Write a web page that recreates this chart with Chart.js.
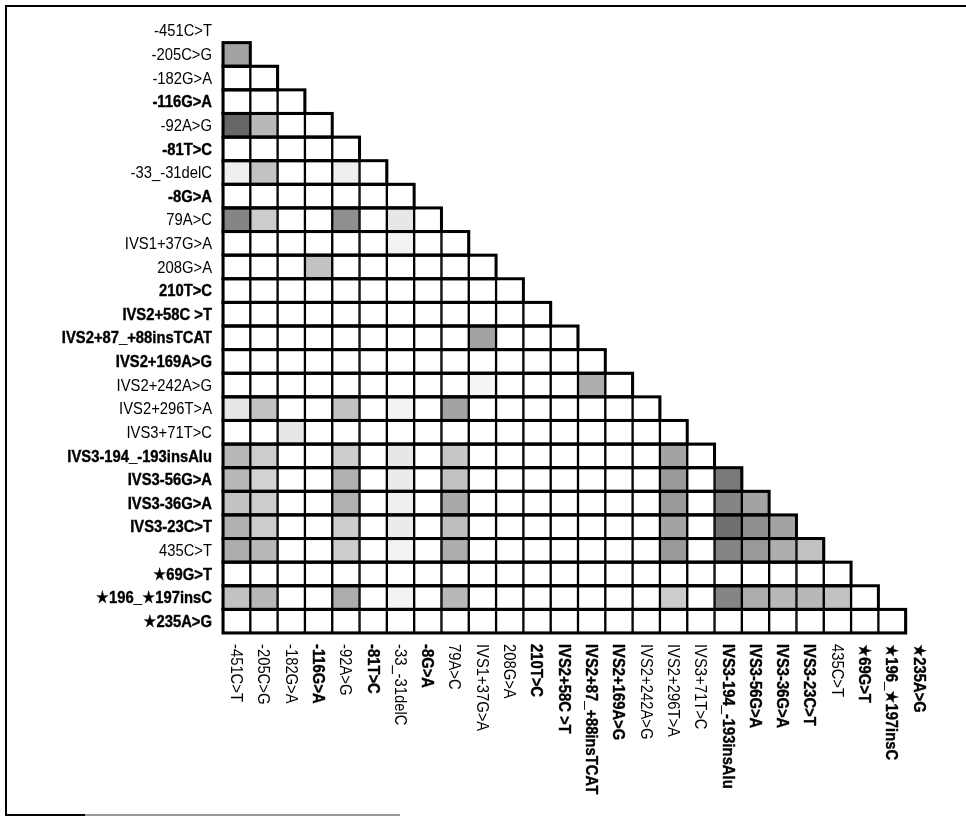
<!DOCTYPE html>
<html>
<head>
<meta charset="utf-8">
<title>Pairwise linkage disequilibrium</title>
<script src="https://cdn.jsdelivr.net/npm/chart.js@4/dist/chart.umd.min.js"></script>
<style>
  html, body { margin: 0; padding: 0; background: #fff; }
  canvas { display: block; }
</style>
</head>
<body>
<canvas id="ld" width="966" height="816"></canvas>
<script>
// Variant names, in order along the gene
const markers = [
  '-451C>T', '-205C>G', '-182G>A', '-116G>A', '-92A>G', '-81T>C', '-33_-31delC', '-8G>A',
  '79A>C', 'IVS1+37G>A', '208G>A', '210T>C', 'IVS2+58C >T', 'IVS2+87_+88insTCAT',
  'IVS2+169A>G', 'IVS2+242A>G', 'IVS2+296T>A', 'IVS3+71T>C', 'IVS3-194_-193insAlu',
  'IVS3-56G>A', 'IVS3-36G>A', 'IVS3-23C>T', '435C>T', '\u260569G>T',
  '\u2605196_\u2605197insC', '\u2605235A>G'
];

// Variants whose labels are set in bold
const boldMarkers = [
  '-116G>A', '-81T>C', '-8G>A', '210T>C', 'IVS2+58C >T', 'IVS2+87_+88insTCAT',
  'IVS2+169A>G', 'IVS3-194_-193insAlu', 'IVS3-56G>A', 'IVS3-36G>A', 'IVS3-23C>T',
  '\u260569G>T', '\u2605196_\u2605197insC', '\u2605235A>G'
];

// Non-zero LD pairs: row variant index, column variant index, shade strength (0..1)
const pairRow = [
  1, 4, 4, 6, 6, 6, 8, 8, 8, 8, 9, 10, 13, 15, 15,
  16, 16, 16, 16, 16, 17,
  18, 18, 18, 18, 18, 18,
  19, 19, 19, 19, 19, 19, 19,
  20, 20, 20, 20, 20, 20, 20, 20,
  21, 21, 21, 21, 21, 21, 21, 21, 21,
  22, 22, 22, 22, 22, 22, 22, 22, 22, 22,
  24, 24, 24, 24, 24, 24, 24, 24, 24, 24, 24
];
const pairCol = [
  0, 0, 1, 0, 1, 4, 0, 1, 4, 6, 6, 3, 9, 9, 13,
  0, 1, 4, 6, 8, 2,
  0, 1, 4, 6, 8, 16,
  0, 1, 4, 6, 8, 16, 18,
  0, 1, 4, 6, 8, 16, 18, 19,
  0, 1, 4, 6, 8, 16, 18, 19, 20,
  0, 1, 4, 6, 8, 16, 18, 19, 20, 21,
  0, 1, 4, 6, 8, 16, 18, 19, 20, 21, 22
];
const pairShade = [
  0.45, 0.75, 0.35, 0.08, 0.30, 0.08, 0.60, 0.25, 0.55, 0.12, 0.06, 0.30, 0.45, 0.05, 0.40,
  0.12, 0.30, 0.30, 0.06, 0.45, 0.12,
  0.35, 0.25, 0.25, 0.12, 0.28, 0.45,
  0.35, 0.22, 0.38, 0.10, 0.30, 0.50, 0.65,
  0.30, 0.25, 0.38, 0.08, 0.42, 0.50, 0.60, 0.45,
  0.38, 0.25, 0.25, 0.10, 0.32, 0.45, 0.70, 0.55, 0.45,
  0.40, 0.35, 0.25, 0.06, 0.40, 0.50, 0.60, 0.50, 0.40, 0.30,
  0.30, 0.35, 0.40, 0.06, 0.35, 0.25, 0.60, 0.40, 0.35, 0.35, 0.30
];

const LABEL_FAMILY = "'Liberation Sans', Arial, 'DejaVu Sans', sans-serif";
const LABEL_SIZE = 17;
const LABEL_SQUEEZE = 0.87;   // narrow the face horizontally to a condensed look
const n = markers.length;

function shadeOf(row, col) {
  for (let k = 0; k < pairRow.length; k++) {
    if (pairRow[k] === row && pairCol[k] === col) return pairShade[k];
  }
  return 0;
}
function shadeColor(v) {
  const g = Math.round(255 * (1 - 0.8 * v));
  return `rgb(${g},${g},${g})`;
}
function isBold(name) {
  return boldMarkers.includes(name);
}
function labelFont(name) {
  return `${isBold(name) ? 'bold' : 'normal'} ${LABEL_SIZE}px ${LABEL_FAMILY}`;
}
// Bold labels get a hairline stroke to keep them clearly heavier than the regular ones
function drawLabel(ctx, name) {
  ctx.font = labelFont(name);
  ctx.fillText(name, 0, 1);
  if (isBold(name)) {
    ctx.lineWidth = 0.4;
    ctx.strokeText(name, 0, 1);
  }
}

// One floating-bar dataset per column variant; each bar spans one cell of the lower triangle
const datasets = [];
for (let j = 0; j < n - 1; j++) {
  datasets.push({
    label: markers[j],
    data: markers.map((_, i) => (i > j ? [j, j + 1] : null)),
    backgroundColor: markers.map((_, i) => shadeColor(shadeOf(i, j))),
    borderColor: '#000',
    borderWidth: 1.5,
    borderSkipped: false,
    barPercentage: 1,
    categoryPercentage: 1,
    grouped: false
  });
}

// Heavier outline around each row of cells so the outer edges match the inner lines
const rowOutline = {
  id: 'rowOutline',
  afterDatasetsDraw(chart) {
    const ctx = chart.ctx, xs = chart.scales.x, ys = chart.scales.y;
    const half = (ys.getPixelForValue(1) - ys.getPixelForValue(0)) / 2;
    ctx.save();
    ctx.strokeStyle = '#000';
    ctx.lineWidth = 3;
    for (let i = 1; i < n; i++) {
      const x0 = xs.getPixelForValue(0), x1 = xs.getPixelForValue(i);
      const yc = ys.getPixelForValue(i);
      ctx.strokeRect(x0, yc - half, x1 - x0, 2 * half);
    }
    ctx.restore();
  }
};

// Row labels to the left, rotated column labels underneath, and the figure frame
const markerLabels = {
  id: 'markerLabels',
  afterDraw(chart) {
    const ctx = chart.ctx, xs = chart.scales.x, ys = chart.scales.y;
    const left = chart.chartArea.left - 11;
    const top = chart.chartArea.bottom + 11;
    ctx.save();
    ctx.fillStyle = '#000';
    ctx.strokeStyle = '#000';
    markers.forEach((name, i) => {
      ctx.save();
      ctx.translate(left, ys.getPixelForValue(i));
      ctx.scale(LABEL_SQUEEZE, 1);
      ctx.textAlign = 'right';
      ctx.textBaseline = 'middle';
      drawLabel(ctx, name);
      ctx.restore();

      ctx.save();
      ctx.translate(xs.getPixelForValue(i + 0.5), top);
      ctx.rotate(Math.PI / 2);
      ctx.scale(LABEL_SQUEEZE, 1);
      ctx.textAlign = 'left';
      ctx.textBaseline = 'middle';
      drawLabel(ctx, name);
      ctx.restore();
    });
    // frame
    ctx.lineWidth = 2;
    ctx.beginPath();
    ctx.moveTo(966, 6);
    ctx.lineTo(6, 6);
    ctx.lineTo(6, 815);
    ctx.lineTo(85, 815);
    ctx.stroke();
    ctx.strokeStyle = '#999';
    ctx.beginPath();
    ctx.moveTo(85, 815);
    ctx.lineTo(400, 815);
    ctx.stroke();
    ctx.restore();
  }
};

new Chart(document.getElementById('ld'), {
  type: 'bar',
  data: { labels: markers, datasets },
  options: {
    indexAxis: 'y',
    responsive: false,
    animation: false,
    events: [],
    layout: { padding: { left: 0, top: 19, right: 33, bottom: 183 } },
    plugins: { legend: { display: false }, tooltip: { enabled: false } },
    scales: {
      x: { type: 'linear', min: 0, max: n, display: false },
      y: {
        grid: { display: false, drawTicks: false },
        border: { display: false },
        ticks: { display: false },
        afterFit: (s) => { s.width = 223; }
      }
    }
  },
  plugins: [rowOutline, markerLabels]
});
</script>
</body>
</html>
